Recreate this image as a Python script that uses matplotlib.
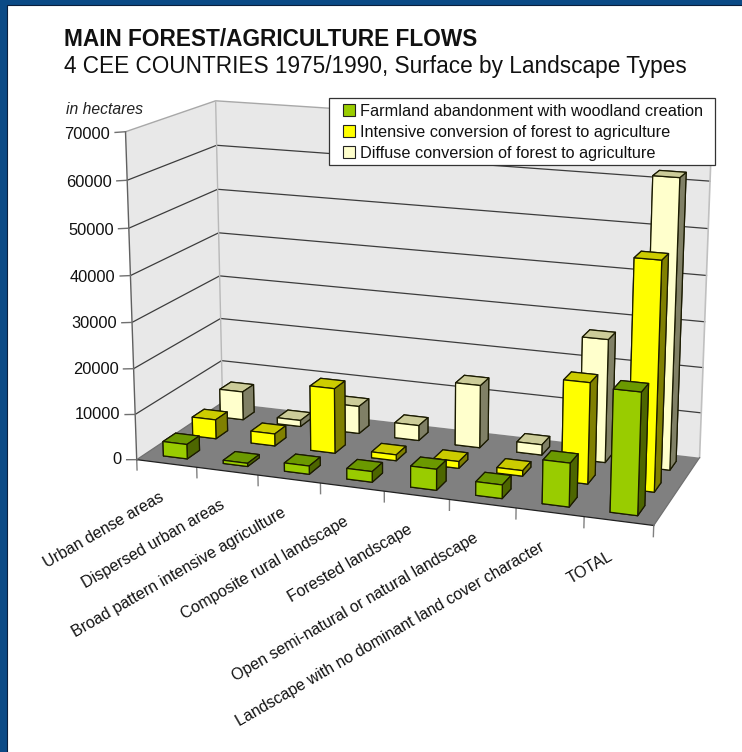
import numpy as np
import matplotlib
matplotlib.use("Agg")
import matplotlib.pyplot as plt
from matplotlib.patches import Rectangle, Patch
from mpl_toolkits.mplot3d import proj3d
from mpl_toolkits.mplot3d.art3d import Poly3DCollection

plt.rcParams['font.family'] = ['Liberation Sans', 'DejaVu Sans']

# ---------- data ----------
categories = ["Urban dense areas", "Dispersed urban areas",
              "Broad pattern intensive agriculture", "Composite rural landscape",
              "Forested landscape", "Open semi-natural or natural landscape",
              "Landscape with no dominant land cover character", "TOTAL"]
series_names = ["Farmland abandonment with woodland creation",
                "Intensive conversion of forest to agriculture",
                "Diffuse conversion of forest to agriculture"]
farmland = [3200, 700, 1800, 2300, 4500, 2900, 9200, 25400]
intensive = [4300, 2700, 14400, 1300, 1500, 1200, 21700, 48400]
diffuse = [6500, 1400, 6200, 3400, 14000, 2300, 27000, 62300]
z_ticks = [0, 10000, 20000, 30000, 40000, 50000, 60000, 70000]

# front, top, side colours per series
face_sets = [
    ("#99cc00", "#6b9900", "#4d6600"),
    ("#ffff00", "#cccc00", "#808000"),
    ("#ffffcc", "#cccc99", "#808066"),
]

W, H = 742, 752
ZMAX = 70000
NX, NY = len(categories), len(series_names)
fig = plt.figure(figsize=(W / 100, H / 100), dpi=100)
fig.patch.set_facecolor("#0b4a86")
fig.add_artist(Rectangle((7 / W, -0.01), 1, 1 - 5 / H + 0.01, transform=fig.transFigure,
                         facecolor="white", edgecolor="#0a1e3c", lw=0.8, zorder=-1))

ax = fig.add_axes([0, 0, 1, 1], projection="3d", computed_zorder=False)
ax.set_axis_off()
ax.patch.set_visible(False)
ax.set_proj_type("ortho")
ax.set_xlim(0, NX); ax.set_ylim(0, NY); ax.set_zlim(0, ZMAX)

# ---------- camera: calibrated from box corners (x, y, z) -> pixel ----------
calib = [
    (0, 0, 0, 137, 459), (NX, 0, 0, 654, 527), (NX, NY, 0, 699, 457), (0, NY, 0, 222, 405),
    (0, 0, 70000, 124.5, 133), (0, NY, 70000, 216, 100), (NX, NY, 70000, 712, 135),
    (0, 0, 10000, 135.5, 413), (0, 0, 40000, 130.5, 275), (0, NY, 10000, 222, 360),
    (NX, NY, 60000, 710.7, 181), (NX, NY, 40000, 706, 273),
]
A = []
for X, Y, Z, u, v in calib:
    p = [X, Y, Z / ZMAX, 1]
    A.append(p + [0, 0, 0, 0] + [-u * q for q in p])
    A.append([0, 0, 0, 0] + p + [-v * q for q in p])
P = np.linalg.svd(np.array(A, float))[2][-1].reshape(3, 4)
P[:, 2] /= ZMAX
centre = np.array([NX / 2, NY / 2, ZMAX / 2, 1])
P = P / (P[2] @ centre)

ax.apply_aspect()
pos = ax.get_position()
vx0, vx1 = ax.viewLim.intervalx
vy0, vy1 = ax.viewLim.intervaly
sx = (vx1 - vx0) / (pos.width * W)
ox = vx0 - pos.x0 * W * sx
sy = -(vy1 - vy0) / (pos.height * H)
oy = vy0 - sy * (H - pos.y0 * H)
M = np.vstack([sx * P[0] + ox * P[2],
               sy * P[1] + oy * P[2],
               P[2] - 0.5 * np.array([0, 0, 0, 1]),
               P[2]])
ax.get_proj = lambda: M
ax.M = M


def label3d(x, y, z, s, **kw):
    """Place 2D text at the projected position of a 3D data point."""
    u, v, _ = proj3d.proj_transform(x, y, z, M)
    return ax.text2D(u, v, s, transform=ax.transData, **kw)


# ---------- walls and floor ----------
ax.add_collection3d(Poly3DCollection(
    [[(0, 0, 0), (0, NY, 0), (0, NY, ZMAX), (0, 0, ZMAX)],
     [(0, NY, 0), (NX, NY, 0), (NX, NY, ZMAX), (0, NY, ZMAX)]],
    facecolors="#e8e8e8", edgecolors="none", zorder=1), autolim=False)
ax.add_collection3d(Poly3DCollection(
    [[(0, 0, 0), (NX, 0, 0), (NX, NY, 0), (0, NY, 0)]],
    facecolors="#808080", edgecolors="none", zorder=2), autolim=False)

for z in z_ticks[1:-1]:
    ax.plot([0, 0, NX], [0, NY, NY], [z, z, z], color="#3c3c3c", lw=0.9, zorder=3)
ax.plot([0, 0, NX], [0, NY, NY], [ZMAX] * 3, color="#a8a8a8", lw=1.0, zorder=3)
ax.plot([NX, NX], [NY, NY], [0, ZMAX], color="#c0c0c0", lw=1.2, zorder=3)
ax.plot([0, 0], [NY, NY], [0, ZMAX], color="#b8b8b8", lw=1.0, zorder=3)
ax.plot([0, 0], [0, 0], [0, ZMAX], color="#606060", lw=1.0, zorder=3)
ax.plot([0, NX], [0, 0], [0, 0], color="#202020", lw=0.9, zorder=4)
ax.plot([NX, NX], [0, NY], [0, 0], color="#707070", lw=0.9, zorder=4)
ax.plot([0, 0], [0, NY], [0, 0], color="#707070", lw=0.9, zorder=4)

# ticks and tick labels
for z in z_ticks:
    ax.plot([-0.17, 0], [0, 0], [z - 300, z], color="#707070", lw=1.0, zorder=3)
    label3d(-0.25, 0, z - 300 - z * 0.008, str(z), ha="right", va="center", fontsize=11.8,
            color="#111111", zorder=20)
for i in range(NX + 1):
    ax.plot([i, i], [0, 0], [0, -2300], color="#808080", lw=1.0, zorder=3)
for i, name in enumerate(categories):
    label3d(i + 0.36, 0, -6000, name, ha="right", va="top", rotation=30,
            rotation_mode="anchor", fontsize=11.55, color="#111111", zorder=20)

# ---------- bars ----------
bar_dx, bar_dy = 0.40, 0.42
values = [farmland, intensive, diffuse]
for s in reversed(range(NY)):
    front, top, side = face_sets[s]
    for i in range(NX):
        ax.bar3d(i + 0.5 - bar_dx / 2, s + 0.5 - bar_dy / 2, 0, bar_dx, bar_dy, values[s][i],
                 color=[front, top, front, front, side, side], edgecolor="#1a1a00",
                 linewidth=0.9, shade=False, zorder=10 + (NY - s) * 10 + i * 0.1)
ax.set_xlim(0, NX); ax.set_ylim(0, NY); ax.set_zlim(0, ZMAX)

# ---------- texts ----------
fig.text(64 / W, 1 - 39 / H, "MAIN FOREST/AGRICULTURE FLOWS", fontsize=16.25, fontweight="bold",
         va="center", ha="left", color="#111111")
fig.text(64 / W, 1 - 67 / H, "4 CEE COUNTRIES 1975/1990, Surface by Landscape Types", fontsize=16.25,
         va="center", ha="left", color="#111111")
fig.text(66 / W, 1 - 109 / H, "in hectares", fontsize=11.3, style="italic", va="center", ha="left",
         color="#222222")

fig.add_artist(Rectangle((329 / W, 1 - 165 / H), 386 / W, 67 / H, transform=fig.transFigure,
                         facecolor="white", edgecolor="#333333", lw=0.9, zorder=4))
handles = [Patch(facecolor=f[0], edgecolor="#222222", lw=0.8) for f in face_sets]
leg = fig.legend(handles, series_names, loc="upper left",
                 bbox_to_anchor=(343 / W, 1 - 104 / H), bbox_transform=fig.transFigure,
                 fontsize=11.7, frameon=False, borderaxespad=0, borderpad=0,
                 handlelength=0.75, handleheight=0.75, handletextpad=0.32,
                 labelspacing=0.36, labelcolor="#111111")
leg.set_zorder(5)

fig.savefig("out.png", dpi=100, facecolor=fig.get_facecolor())
